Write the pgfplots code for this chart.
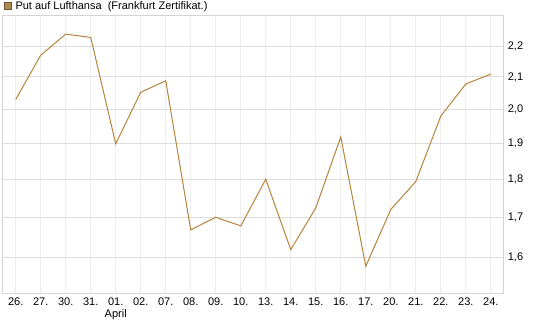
\documentclass[border=0pt]{standalone}
\usepackage{fontspec}
\setmainfont{Liberation Sans}
\usepackage{pgfplots}
\pgfplotsset{compat=1.18}
\definecolor{linec}{HTML}{B5843C}
\definecolor{legfill}{HTML}{B08A50}
\definecolor{legdraw}{HTML}{6E5430}
\definecolor{gridh}{HTML}{DDDDDD}
\definecolor{gridv}{HTML}{EEEEEE}
\definecolor{framec}{HTML}{D4D4D4}
\begin{document}
\begin{tikzpicture}[x=1pt,y=1pt]
\begin{axis}[
  at={(2.7pt,34pt)}, anchor=south west,
  scale only axis, width=500.6pt, height=277pt,
  xmin=-0.52, xmax=19.5,
  ymode=log, ymin=1.5166, ymax=2.302,
  axis line style={framec, line width=1pt},
  xtick={0,...,19},
  xticklabels={26.,27.,30.,31.,{01.\\April},02.,07.,08.,09.,10.,13.,14.,15.,16.,17.,20.,21.,22.,23.,24.},
  xticklabel style={align=center, font=\fontsize{11}{12.5}\selectfont, yshift=-1pt},
  ytick={1.6,1.7,1.8,1.9,2.0,2.1,2.2},
  yticklabels={{1,6},{1,7},{1,8},{1,9},{2,0},{2,1},{2,2}},
  yticklabel pos=right,
  yticklabel style={font=\fontsize{11}{13}\selectfont, xshift=1pt},
  minor ytick={},
  major tick length=0pt,
  /pgf/number format/assume math mode=true,
  xmajorgrids, ymajorgrids,
  x grid style={gridv, line width=1pt},
  y grid style={gridh, line width=1pt},
  legend style={at={(0,1)}, anchor=south west, draw=none, fill=none,
    inner sep=0pt, outer sep=0pt, xshift=1pt, yshift=3pt,
    font=\fontsize{11}{13}\selectfont},
  legend cell align=left,
  legend image code/.code={\draw[fill=legfill, draw=legdraw, line width=0.8pt] (0pt,-3.5pt) rectangle (7pt,3.5pt);},
]
\addplot[linec, line width=1pt, mark=none] coordinates {
(0,2.030) (1,2.170) (2,2.240) (3,2.229) (4,1.899) (5,2.052) (6,2.088)
(7,1.668) (8,1.700) (9,1.678) (10,1.800) (11,1.619) (12,1.724) (13,1.919)
(14,1.579) (15,1.720) (16,1.794) (17,1.980) (18,2.078) (19,2.109)
};
\addlegendentry{\hspace{2pt}Put auf Lufthansa\ \ (Frankfurt Zertifikat.)}
\end{axis}
\pgfresetboundingbox
\useasboundingbox (0,0) rectangle (545pt,327pt);
\end{tikzpicture}
\end{document}
